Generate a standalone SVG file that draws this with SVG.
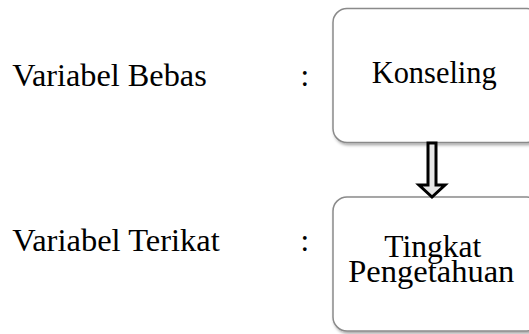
<svg xmlns="http://www.w3.org/2000/svg" width="529" height="334" viewBox="0 0 529 334">
  <style>
    .lbl { font-family: "Liberation Serif", "Times New Roman", serif; font-size: 31px; fill: #000; }
    .box { fill: #fff; stroke: #8a8a8a; stroke-width: 1.5; filter: url(#sh); }
  </style>
  <defs>
    <filter id="sh" x="-10%" y="-10%" width="130%" height="130%">
      <feDropShadow dx="1.5" dy="2" stdDeviation="1.5" flood-color="#000" flood-opacity="0.35"/>
    </filter>
  </defs>
  <rect width="529" height="334" fill="#fff"/>
  <g id="label-bebas">
    <text class="lbl" x="12.3" y="85.7" textLength="194.4" lengthAdjust="spacingAndGlyphs">Variabel Bebas</text>
    <text class="lbl" x="300.5" y="85.7">:</text>
  </g>
  <g id="label-terikat">
    <text class="lbl" x="12.3" y="250.5" textLength="207.5" lengthAdjust="spacingAndGlyphs">Variabel Terikat</text>
    <text class="lbl" x="300.5" y="250.5">:</text>
  </g>
  <g id="node-konseling">
    <rect class="box" x="333" y="8.5" width="208" height="134" rx="14"/>
    <text class="lbl" x="371.7" y="83.3" textLength="125" lengthAdjust="spacingAndGlyphs">Konseling</text>
  </g>
  <g id="node-pengetahuan">
    <rect class="box" x="333" y="197" width="208" height="134" rx="14"/>
    <text class="lbl" x="384.3" y="257" textLength="97" lengthAdjust="spacingAndGlyphs">Tingkat</text>
    <text class="lbl" x="348.3" y="281.7" textLength="166" lengthAdjust="spacingAndGlyphs">Pengetahuan</text>
  </g>
  <g id="connectors">
    <polygon points="428,143 436,143 436,185 445,185 432,197 419,185 428,185" fill="#e6e6e6" stroke="#000" stroke-width="3" stroke-linejoin="miter"/>
  </g>
</svg>
